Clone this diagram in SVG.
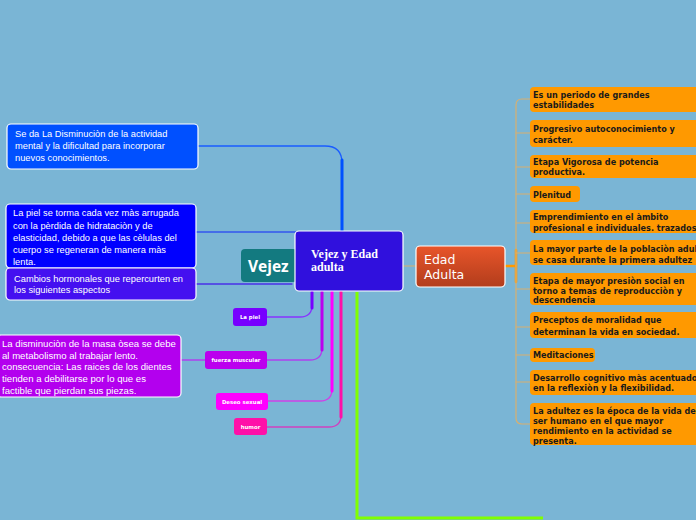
<svg xmlns="http://www.w3.org/2000/svg" width="696" height="520" viewBox="0 0 696 520">
<defs>
<linearGradient id="gEdad" x1="0" y1="0" x2="0" y2="1">
<stop offset="0" stop-color="#e8552a"/>
<stop offset="1" stop-color="#b23d1c"/>
</linearGradient>
<style>
.lt{font-family:"Liberation Sans",Arial,sans-serif;font-size:9.3px;fill:#ffffff}
.mt{font-family:"Liberation Sans",Arial,sans-serif;font-size:9.6px;fill:#ffffff}
.rt{font-family:"DejaVu Sans",Verdana,sans-serif;font-weight:bold;font-size:8.1px;fill:#1a1a1a}
.st{font-family:"DejaVu Sans",Verdana,sans-serif;font-weight:bold;font-size:5.4px;fill:#ffffff}
.ob{fill:#ff9900}
.wb{stroke:#ffffff;stroke-width:1.2}
.c{fill:none;stroke-linecap:round}
</style>
</defs>
<rect width="696" height="520" fill="#7ab5d5"/>

<g id="connectors">
<path class="c" d="M198,146 H325 Q342,146 342,163" stroke="#1a5cff" stroke-width="1.3"/>
<path class="c" d="M342,160 V231" stroke="#0050ff" stroke-width="3"/>
<path class="c" d="M196,232 H296" stroke="#3355ee" stroke-width="1.3"/>
<path class="c" d="M196,284 H292" stroke="#4a30e8" stroke-width="1.3"/>
<path class="c" d="M267,317 H300 Q312,317 312,305" stroke="#8833ff" stroke-width="1.3"/>
<path class="c" d="M312,308 V292" stroke="#7700ff" stroke-width="3"/>
<path class="c" d="M267,360 H310 Q322,360 322,348" stroke="#b040ee" stroke-width="1.3"/>
<path class="c" d="M322,350 V292" stroke="#bb00ee" stroke-width="3"/>
<path class="c" d="M181,360 H205" stroke="#b040ee" stroke-width="1.3"/>
<path class="c" d="M268,401 H320 Q332,401 332,389" stroke="#d040e8" stroke-width="1.3"/>
<path class="c" d="M332,391 V292" stroke="#ff00ff" stroke-width="3"/>
<path class="c" d="M267,427 H329 Q341,427 341,415" stroke="#d040c0" stroke-width="1.3"/>
<path class="c" d="M341,417 V292" stroke="#ff10a8" stroke-width="3"/>
<path fill="none" d="M357,292 V518 H543" stroke="#80ff00" stroke-width="3"/>
<path class="c" d="M403,266 H416" stroke="#d8b070" stroke-width="1.2"/>
<path class="c" d="M505,266 H516" stroke="#ff9900" stroke-width="2.5"/>
<path class="c" d="M516,250 V282" stroke="#ff9900" stroke-width="2.5"/>
<path class="c" d="M530,99 H522 Q516,99 516,105 V418 Q516,424 522,424 H530" stroke="#d8b070" stroke-width="1.2"/>
<path class="c" d="M516,133 H530 M516,167 H530 M516,194 H530 M516,223 H530 M516,253 H530 M516,289 H530 M516,327 H530 M516,355 H530 M516,382 H530" stroke="#d8b070" stroke-width="1.2"/>
</g>

<g id="n-box1">
<rect class="wb" x="7" y="124" width="191" height="45" rx="4" fill="#0050ff"/>
<text class="lt" x="15" y="137">Se da La Disminuciòn de la actividad</text>
<text class="lt" x="15" y="149">mental y la dificultad para incorporar</text>
<text class="lt" x="15" y="161">nuevos conocimientos.</text>
</g>

<g id="n-box2">
<rect class="wb" x="6" y="204" width="190" height="64" rx="4" fill="#0000ff"/>
<text class="lt" x="13" y="216">La piel se torma cada vez màs arrugada</text>
<text class="lt" x="13" y="228.5">con la pèrdida de hidrataciòn y de</text>
<text class="lt" x="13" y="241">elasticidad, debido a que las cèlulas del</text>
<text class="lt" x="13" y="253">cuerpo se regeneran de manera màs</text>
<text class="lt" x="13" y="265">lenta.</text>
</g>

<g id="n-box3">
<rect class="wb" x="6" y="268" width="190" height="32" rx="4" fill="#4410f0"/>
<text class="lt" x="14" y="282">Cambios hormonales que repercurten en</text>
<text class="lt" x="14" y="293">los siguientes aspectos</text>
</g>

<g id="n-vejez">
<rect x="241" y="249" width="56" height="33" rx="4" fill="#137a80"/>
<text x="248" y="272" font-family="'Open Sans','DejaVu Sans',sans-serif" font-weight="bold" font-size="15.5" fill="#ffffff">Vejez</text>
</g>

<g id="n-central">
<rect class="wb" x="295" y="231" width="108" height="60" rx="4" fill="#3010dd"/>
<text x="311" y="258" font-family="'Liberation Serif','Times New Roman',serif" font-weight="bold" font-size="12" fill="#ffffff">Vejez y Edad</text>
<text x="311" y="271" font-family="'Liberation Serif','Times New Roman',serif" font-weight="bold" font-size="12" fill="#ffffff">adulta</text>
</g>

<g id="n-edad">
<rect class="wb" x="416" y="246" width="89" height="41" rx="4" fill="url(#gEdad)"/>
<text x="424" y="264" font-family="'DejaVu Sans',Verdana,sans-serif" font-size="12.5" fill="#ffffff">Edad</text>
<text x="424" y="279" font-family="'DejaVu Sans',Verdana,sans-serif" font-size="12.5" fill="#ffffff">Adulta</text>
</g>

<g id="n-lapiel">
<rect x="233" y="308" width="34" height="18" rx="3" fill="#7700ff"/>
<text class="st" x="250" y="319" text-anchor="middle">La piel</text>
</g>

<g id="n-fuerza">
<rect x="205" y="351" width="62" height="18" rx="3" fill="#bb00ee"/>
<text class="st" x="236" y="362" text-anchor="middle">fuerza muscular</text>
</g>

<g id="n-masa">
<rect class="wb" x="-3" y="335" width="184" height="62" rx="4" fill="#b300ee"/>
<text class="mt" x="2" y="346.5">La disminuciòn de la masa òsea se debe</text>
<text class="mt" x="2" y="358.5">al metabolismo al trabajar lento.</text>
<text class="mt" x="2" y="370">consecuencia: Las raices de los dientes</text>
<text class="mt" x="2" y="381.5">tienden a debilitarse por lo que es</text>
<text class="mt" x="2" y="393.5">factible que pierdan sus piezas.</text>
</g>

<g id="n-deseo">
<rect x="216" y="393" width="52" height="17" rx="3" fill="#ff00ff"/>
<text class="st" x="242" y="403.5" text-anchor="middle">Deseo sexual</text>
</g>

<g id="n-humor">
<rect x="234" y="418" width="33" height="17" rx="3" fill="#ff10a8"/>
<text class="st" x="250.5" y="428.5" text-anchor="middle">humor</text>
</g>

<g id="r1">
<rect class="ob" x="530" y="87" width="180" height="25" rx="4"/>
<text class="rt" x="533" y="98">Es un periodo de grandes</text>
<text class="rt" x="533" y="108">estabilidades</text>
</g>
<g id="r2">
<rect class="ob" x="530" y="120" width="180" height="27" rx="4"/>
<text class="rt" x="533" y="132" font-size="8.8">Progresivo autoconocimiento y</text>
<text class="rt" x="533" y="143" font-size="8.8">carácter.</text>
</g>
<g id="r3">
<rect class="ob" x="530" y="155" width="180" height="23" rx="4"/>
<text class="rt" x="533" y="165">Etapa Vigorosa de potencia</text>
<text class="rt" x="533" y="175">productiva.</text>
</g>
<g id="r4">
<rect class="ob" x="530" y="186" width="50" height="16" rx="4"/>
<text class="rt" x="533" y="198" font-size="10">Plenitud</text>
</g>
<g id="r5">
<rect class="ob" x="530" y="210" width="180" height="23" rx="4"/>
<text class="rt" x="533" y="220">Emprendimiento en el àmbito</text>
<text class="rt" x="533" y="231">profesional e individuales. trazados.</text>
</g>
<g id="r6">
<rect class="ob" x="530" y="240" width="180" height="25" rx="4"/>
<text class="rt" x="533" y="252">La mayor parte de la poblaciòn adulta</text>
<text class="rt" x="533" y="263">se casa durante la primera adultez</text>
</g>
<g id="r7">
<rect class="ob" x="530" y="273" width="180" height="32" rx="4"/>
<text class="rt" x="533" y="284">Etapa de mayor presiòn social en</text>
<text class="rt" x="533" y="294">torno a temas de reproducciòn y</text>
<text class="rt" x="533" y="303">descendencia</text>
</g>
<g id="r8">
<rect class="ob" x="530" y="312" width="180" height="26" rx="4"/>
<text class="rt" x="533" y="323">Preceptos de moralidad que</text>
<text class="rt" x="533" y="335">determinan la vida en sociedad.</text>
</g>
<g id="r9">
<rect class="ob" x="530" y="348" width="65" height="14" rx="4"/>
<text class="rt" x="533" y="358">Meditaciones</text>
</g>
<g id="r10">
<rect class="ob" x="530" y="370" width="180" height="25" rx="4"/>
<text class="rt" x="533" y="381">Desarrollo cognitivo màs acentuado</text>
<text class="rt" x="533" y="391">en la reflexiòn y la flexibilidad.</text>
</g>
<g id="r11">
<rect class="ob" x="530" y="403" width="180" height="42" rx="4"/>
<text class="rt" x="533" y="414">La adultez es la época de la vida del</text>
<text class="rt" x="533" y="424">ser humano en el que mayor</text>
<text class="rt" x="533" y="434">rendimiento en la actividad se</text>
<text class="rt" x="533" y="444">presenta.</text>
</g>
</svg>
